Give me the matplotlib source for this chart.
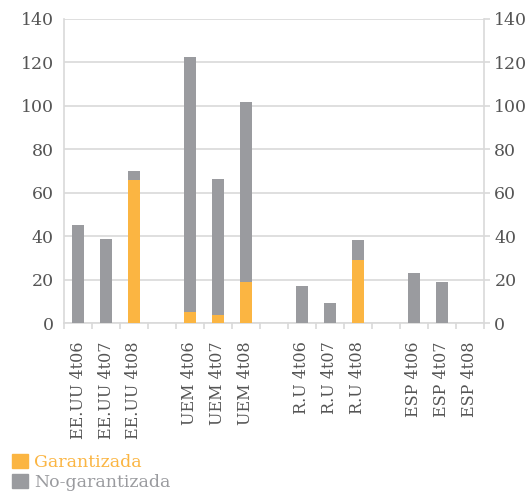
import numpy as np
import matplotlib.pyplot as plt
from matplotlib.patches import Patch

# Data
categories = ['EE.UU 4t06', 'EE.UU 4t07', 'EE.UU 4t08',
              'UEM 4t06', 'UEM 4t07', 'UEM 4t08',
              'R.U 4t06', 'R.U 4t07', 'R.U 4t08',
              'ESP 4t06', 'ESP 4t07', 'ESP 4t08']
garantizada = [0, 0, 66, 5, 3.5, 19, 0, 0, 29, 0, 0, 0]
no_garantizada = [45, 38.5, 4, 117.5, 63, 83, 17, 9, 9, 23, 19, 0]

ORANGE = '#FBB542'
GRAY = '#9A9B9F'
TEXT = '#555555'
GRID = '#D9D9D9'

plt.rcParams['font.family'] = ['DejaVu Serif']

fig = plt.figure(figsize=(5.26, 4.93), dpi=100)
ax = fig.add_axes([0.1217, 0.3448, 0.7983, 0.6167])

# one empty slot after each group of three
x = np.array([i + i // 3 for i in range(len(categories))])
g = np.array(garantizada)
ng = np.array(no_garantizada)

ax.bar(x, g, width=0.45, color=ORANGE, zorder=3)
ax.bar(x, ng, width=0.45, bottom=g, color=GRAY, zorder=3)

ax.set_xlim(-0.5, 14.5)
ax.set_ylim(0, 140)
ax.set_yticks(np.arange(0, 141, 20))
ax.yaxis.grid(True, color=GRID, linewidth=1.2, zorder=0)

ax.set_xticks(x)
ax.set_xticklabels(categories, rotation=90, fontsize=11.5, color=TEXT)
ax.set_xticks(np.arange(-0.5, 15, 1), minor=True)
ax.tick_params(axis='x', which='major', length=0, pad=13)
ax.tick_params(axis='x', which='minor', length=4, color=GRID, width=1.2)

ax.tick_params(axis='y', length=4, color=GRID, width=1.2, labelsize=12.5,
               labelcolor=TEXT, left=False, right=True, labelleft=True, labelright=True)
for side in ['left', 'right', 'bottom']:
    ax.spines[side].set_color(GRID)
    ax.spines[side].set_linewidth(1.2)
ax.spines['top'].set_visible(False)

handles = [Patch(color=ORANGE), Patch(color=GRAY)]
fig.legend(handles, ['Garantizada', 'No-garantizada'], loc='lower left',
           bbox_to_anchor=(0.0, -0.02), frameon=False, fontsize=12.5,
           labelcolor=[ORANGE, GRAY], handlelength=0.9, handleheight=0.9,
           handletextpad=0.35, labelspacing=0.15, borderaxespad=0.3)

fig.savefig('out.png', dpi=100)
